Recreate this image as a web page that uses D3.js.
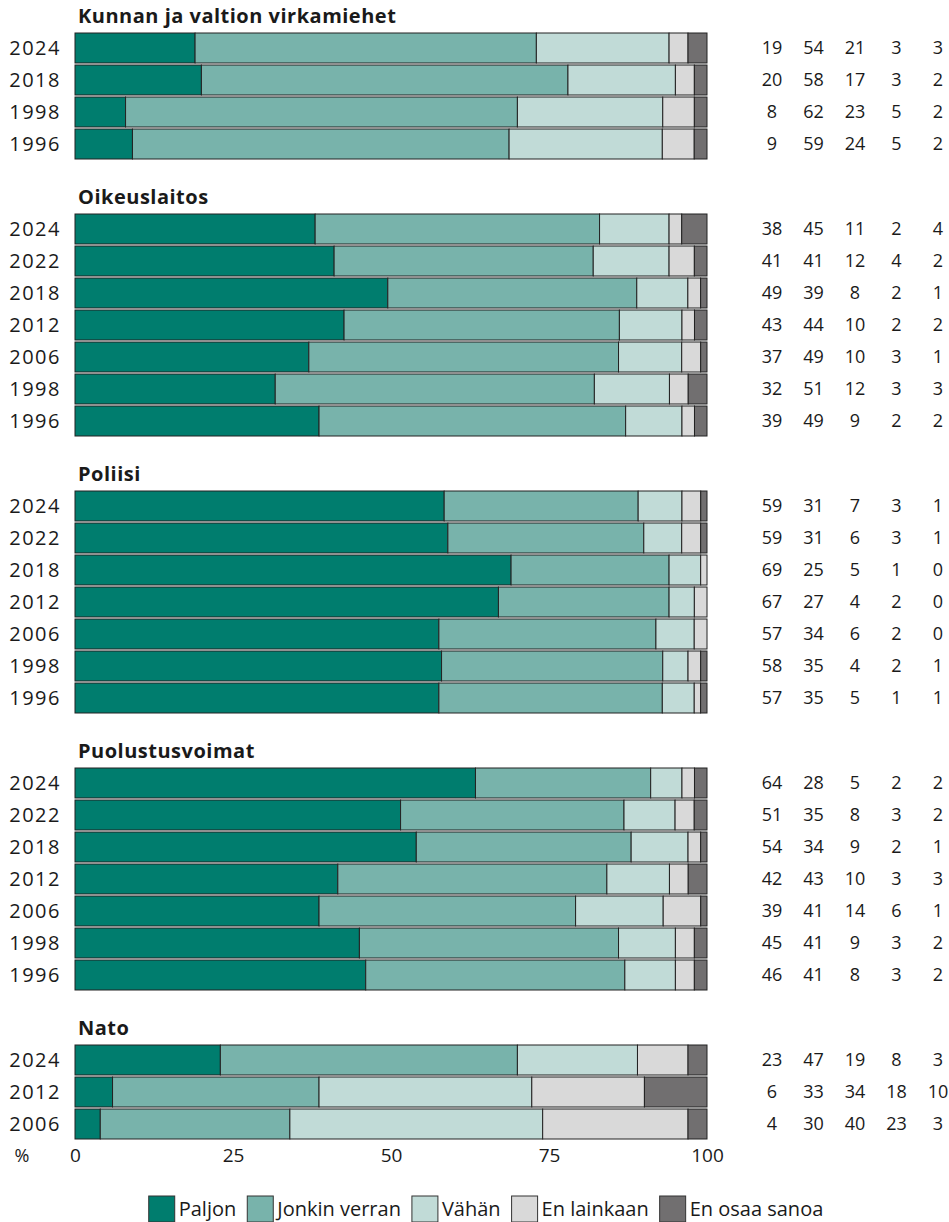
<!DOCTYPE html>
<html><head><meta charset="utf-8">
<script src="https://cdn.jsdelivr.net/npm/d3@7"></script>
<style>
html,body{margin:0;padding:0;background:#fff;}
svg text{font-family:"Open Sans",sans-serif;fill:#1a1a1a;}
</style></head>
<body><svg id="c" width="949" height="1222"></svg>
<script>
// ---- data ----
const groups = ["Kunnan ja valtion virkamiehet", "Oikeuslaitos", "Poliisi", "Puolustusvoimat", "Nato"];
const seriesNames = ["Paljon", "Jonkin verran", "Vähän", "En lainkaan", "En osaa sanoa"];
const seriesColors = ["#007d6e", "#78b3ab", "#c1dbd7", "#d9d9d9", "#716f70"];
const tickValues = [0, 25, 50, 75, 100];

const kunnanYears = [2024, 2018, 1998, 1996];
const kunnanValues = [[19,54,21,3,3],[20,58,17,3,2],[8,62,23,5,2],[9,59,24,5,2]];
const oikeusYears = [2024, 2022, 2018, 2012, 2006, 1998, 1996];
const oikeusValues = [[38,45,11,2,4],[41,41,12,4,2],[49,39,8,2,1],[43,44,10,2,2],[37,49,10,3,1],[32,51,12,3,3],[39,49,9,2,2]];
const poliisiYears = [2024, 2022, 2018, 2012, 2006, 1998, 1996];
const poliisiValues = [[59,31,7,3,1],[59,31,6,3,1],[69,25,5,1,0],[67,27,4,2,0],[57,34,6,2,0],[58,35,4,2,1],[57,35,5,1,1]];
const puolustusYears = [2024, 2022, 2018, 2012, 2006, 1998, 1996];
const puolustusValues = [[64,28,5,2,2],[51,35,8,3,2],[54,34,9,2,1],[42,43,10,3,3],[39,41,14,6,1],[45,41,9,3,2],[46,41,8,3,2]];
const natoYears = [2024, 2012, 2006];
const natoValues = [[23,47,19,8,3],[6,33,34,18,10],[4,30,40,23,3]];

const groupYears = [kunnanYears, oikeusYears, poliisiYears, puolustusYears, natoYears];
const groupValues = [kunnanValues, oikeusValues, poliisiValues, puolustusValues, natoValues];

// ---- layout ----
const svg = d3.select("#c");
const x = d3.scaleLinear().domain([0, 100]).range([75, 707]);
const rowY = d3.scaleLinear().domain([0, 1]).range([16, 48]); // row index -> center
const groupGap = 21;
const barH = 30;
const colX = d3.scalePoint().domain(d3.range(5)).range([772, 938]);
const color = d3.scaleOrdinal().domain(seriesNames).range(seriesColors);

let row = 0;
groups.forEach((g, gi) => {
  const off = gi * groupGap;
  const ty = rowY(row) + off;
  svg.append("text").attr("x", 78).attr("y", ty).attr("dy", "0.35em")
    .style("font-weight", "700").style("font-size", "20px").style("letter-spacing", "0.5px").text(g);
  row++;
  groupYears[gi].forEach((yr, yi) => {
    const cy = rowY(row) + off;
    const vals = groupValues[gi][yi];
    const total = d3.sum(vals);
    let cum = 0;
    const segs = vals.map((v, si) => { const s = {s: si, x0: cum / total * 100, x1: (cum + v) / total * 100}; cum += v; return s; });
    const gRow = svg.append("g");
    gRow.selectAll("rect").data(segs).join("rect")
      .attr("x", d => x(d.x0)).attr("width", d => Math.max(0, x(d.x1) - x(d.x0)))
      .attr("y", cy - barH / 2).attr("height", barH)
      .attr("fill", d => color(seriesNames[d.s]))
      .attr("stroke", "#222").attr("stroke-width", 1);
    svg.append("text").attr("x", 61).attr("y", cy).attr("dy", "0.36em")
      .attr("text-anchor", "end").style("font-size", "20px").style("letter-spacing", "1.5px").text(yr);
    svg.selectAll(null).data(vals).join("text")
      .attr("x", (d, i) => colX(i)).attr("y", cy).attr("dy", "0.36em")
      .attr("text-anchor", "middle").style("font-size", "18px").text(d => d);
    row++;
  });
});

// ---- axis ----
const axis = svg.append("g").attr("transform", "translate(0,1144)")
  .call(d3.axisBottom(x).tickValues(tickValues).tickSize(0).tickPadding(0).tickFormat(d3.format("d")));
axis.select(".domain").remove();
axis.selectAll("text").attr("dy", 0).attr("y", 18).style("font-size", "19px").style("font-family", "'Open Sans',sans-serif").attr("fill", "#1a1a1a");
svg.append("text").attr("x", 22).attr("y", 1162).attr("text-anchor", "middle").style("font-size", "18px").text("%");

// ---- legend ----
const leg = svg.append("g");
let lx = 0;
const itemGap = 11;
seriesNames.forEach((n, i) => {
  const it = leg.append("g");
  it.append("rect").attr("x", 0).attr("y", 1196).attr("width", 26).attr("height", 26)
    .attr("fill", color(n)).attr("stroke", "#333").attr("stroke-width", 1);
  const t = it.append("text").attr("x", 30).attr("y", 1216).style("font-size", "20px").text(n);
  const w = t.node().getComputedTextLength();
  it.attr("transform", `translate(${lx},0)`);
  lx += 30 + w + itemGap;
});
const legW = lx - itemGap;
leg.attr("transform", `translate(${486 - legW / 2},0)`);
</script></body></html>
